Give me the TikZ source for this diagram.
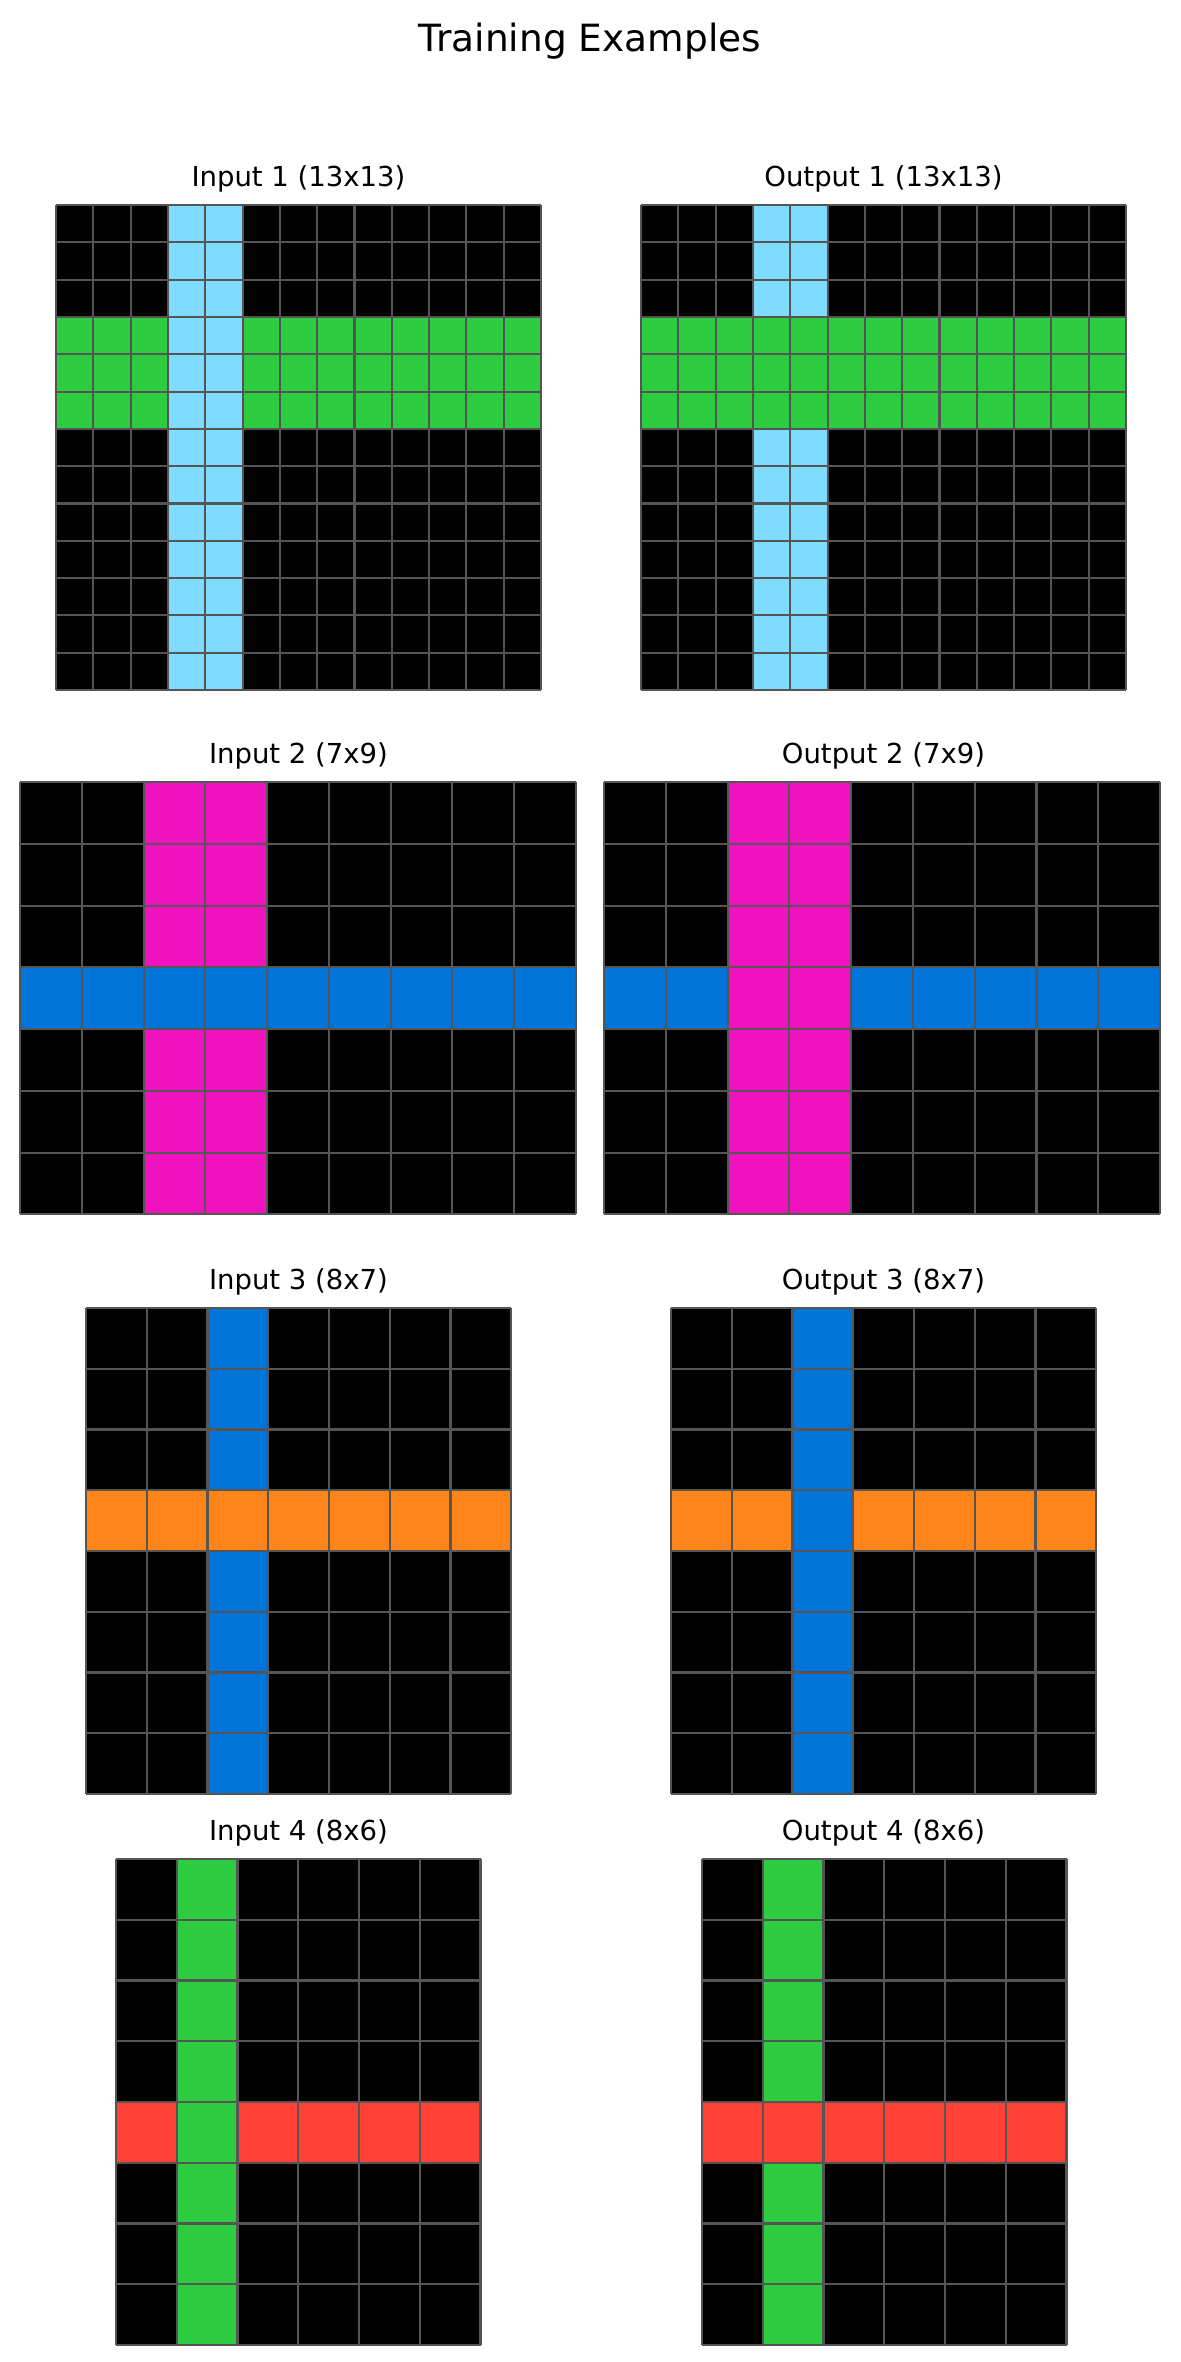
\documentclass[tikz,border=0pt]{standalone}
\usepackage{fontspec}
\setmainfont{DejaVu Sans}
\definecolor{gridgray}{HTML}{555555}
\definecolor{arcsky}{HTML}{7FDBFF}
\definecolor{arcgreen}{HTML}{2ECC40}
\definecolor{arcpink}{HTML}{F012BE}
\definecolor{arcblue}{HTML}{0074D9}
\definecolor{arcorange}{HTML}{FF851B}
\definecolor{arcred}{HTML}{FF4136}
\tikzset{
 gridline/.style={draw=gridgray,line width=1pt},
 paneltitle/.style={font=\fontsize{13.2}{15}\selectfont},
 figtitle/.style={font=\fontsize{18}{21}\selectfont}
}
\newcommand{\panelgrid}[2]{%
  \foreach \c in {0,...,#1} \draw[gridline] (\c,0) -- (\c,#2);
  \foreach \r in {0,...,#2} \draw[gridline] (0,\r) -- (#1,\r);
}
\begin{document}
\begin{tikzpicture}[x=0.48pt,y=-0.48pt]
\path[use as bounding box] (0,0) rectangle (1180,2362);
\node[figtitle] (title) at (590,41) {Training Examples};
% pair 1
\node[paneltitle] (in1) at (298.5,178.5) {Input 1 (13x13)};
\node[paneltitle] (out1) at (883.5,178.5) {Output 1 (13x13)};
\begin{scope}[shift={(56,205)},x=17.909pt,y=-17.909pt]
\fill[black] (0,0) rectangle (13,13);
\fill[arcgreen] (0,3) rectangle (13,6);
\fill[arcsky] (3,0) rectangle (5,13);
\panelgrid{13}{13}
\end{scope}
\begin{scope}[shift={(641,205)},x=17.909pt,y=-17.909pt]
\fill[black] (0,0) rectangle (13,13);
\fill[arcsky] (3,0) rectangle (5,13);
\fill[arcgreen] (0,3) rectangle (13,6);
\panelgrid{13}{13}
\end{scope}
% pair 2
\node[paneltitle] (in2) at (298.5,755.5) {Input 2 (7x9)};
\node[paneltitle] (out2) at (883.5,755.5) {Output 2 (7x9)};
\begin{scope}[shift={(20,782)},x=29.653pt,y=-29.653pt]
\fill[black] (0,0) rectangle (9,7);
\fill[arcpink] (2,0) rectangle (4,7);
\fill[arcblue] (0,3) rectangle (9,4);
\panelgrid{9}{7}
\end{scope}
\begin{scope}[shift={(604,782)},x=29.653pt,y=-29.653pt]
\fill[black] (0,0) rectangle (9,7);
\fill[arcblue] (0,3) rectangle (9,4);
\fill[arcpink] (2,0) rectangle (4,7);
\panelgrid{9}{7}
\end{scope}
% pair 3
\node[paneltitle] (in3) at (298.5,1281.5) {Input 3 (8x7)};
\node[paneltitle] (out3) at (883.5,1281.5) {Output 3 (8x7)};
\begin{scope}[shift={(86,1308)},x=29.16pt,y=-29.16pt]
\fill[black] (0,0) rectangle (7,8);
\fill[arcblue] (2,0) rectangle (3,8);
\fill[arcorange] (0,3) rectangle (7,4);
\panelgrid{7}{8}
\end{scope}
\begin{scope}[shift={(671,1308)},x=29.16pt,y=-29.16pt]
\fill[black] (0,0) rectangle (7,8);
\fill[arcorange] (0,3) rectangle (7,4);
\fill[arcblue] (2,0) rectangle (3,8);
\panelgrid{7}{8}
\end{scope}
% pair 4
\node[paneltitle] (in4) at (298.5,1832.5) {Input 4 (8x6)};
\node[paneltitle] (out4) at (883.5,1832.5) {Output 4 (8x6)};
\begin{scope}[shift={(116,1859)},x=29.16pt,y=-29.16pt]
\fill[black] (0,0) rectangle (6,8);
\fill[arcred] (0,4) rectangle (6,5);
\fill[arcgreen] (1,0) rectangle (2,8);
\panelgrid{6}{8}
\end{scope}
\begin{scope}[shift={(702,1859)},x=29.16pt,y=-29.16pt]
\fill[black] (0,0) rectangle (6,8);
\fill[arcgreen] (1,0) rectangle (2,8);
\fill[arcred] (0,4) rectangle (6,5);
\panelgrid{6}{8}
\end{scope}
\end{tikzpicture}
\end{document}
